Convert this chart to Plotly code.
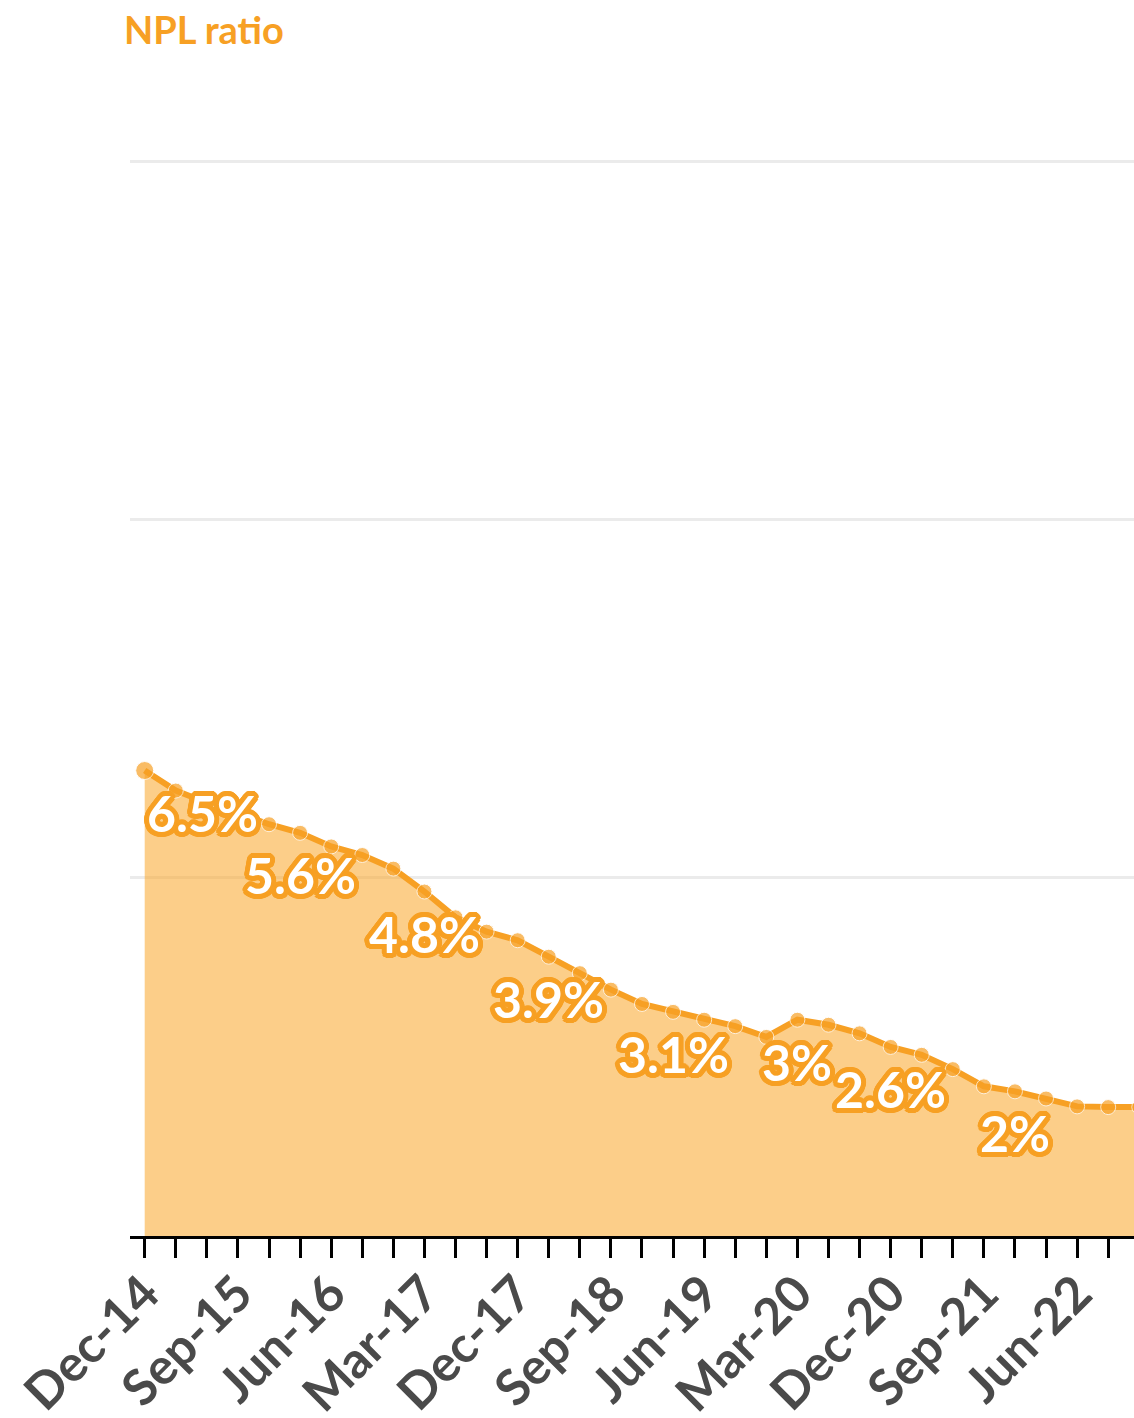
import plotly.graph_objects as go
import math

quarters = ["Dec-14", "Mar-15", "Jun-15", "Sep-15", "Dec-15", "Mar-16", "Jun-16", "Sep-16",
            "Dec-16", "Mar-17", "Jun-17", "Sep-17", "Dec-17", "Mar-18", "Jun-18", "Sep-18",
            "Dec-18", "Mar-19", "Jun-19", "Sep-19", "Dec-19", "Mar-20", "Jun-20", "Sep-20",
            "Dec-20", "Mar-21", "Jun-21", "Sep-21", "Dec-21", "Mar-22", "Jun-22", "Sep-22",
            "Dec-22"]
npl_ratio = [6.5, 6.22, 6.05, 5.9, 5.75, 5.63, 5.44, 5.32,
             5.13, 4.81, 4.45, 4.25, 4.13, 3.9, 3.67, 3.44,
             3.24, 3.13, 3.02, 2.93, 2.78, 3.02, 2.95, 2.83,
             2.64, 2.53, 2.33, 2.09, 2.02, 1.92, 1.81, 1.80,
             1.80]
tick_labels = ["Dec-14", "Sep-15", "Jun-16", "Mar-17", "Dec-17", "Sep-18",
               "Jun-19", "Mar-20", "Dec-20", "Sep-21", "Jun-22"]
labelled_quarters = ["Dec-14", "Mar-16", "Mar-17", "Mar-18", "Mar-19", "Mar-20", "Dec-20", "Dec-21"]
y_grid = [0, 5, 10, 15]

ORANGE = "#f7a024"
x_idx = list(range(len(quarters)))

fig = go.Figure()
fig.add_trace(go.Scatter(
    x=x_idx, y=npl_ratio, mode="lines+markers",
    line=dict(color=ORANGE, width=6),
    marker=dict(color=ORANGE, size=[18] + [15] * (len(quarters) - 1)),
    fill="tozeroy", fillcolor="rgba(250,165,40,0.55)",
    hoverinfo="skip", showlegend=False,
))

# outline via shadows
offs = []
for r in (2.5, 5):
    for k in range(24):
        a = 2 * math.pi * k / 24
        offs.append(f"{r*math.cos(a):.1f}px {r*math.sin(a):.1f}px 0 {ORANGE}")
shadow = ", ".join(offs)

def fmt(v):
    s = f"{v:.1f}"
    if s.endswith(".0"):
        s = s[:-2]
    return s + "%"

for q in labelled_quarters:
    i = quarters.index(q)
    first = (i == 0)
    fig.add_annotation(
        x=i, y=npl_ratio[i], xref="x", yref="y",
        text=fmt(npl_ratio[i]), showarrow=False,
        xanchor="left" if first else "center", yanchor="middle",
        yshift=-42, xshift=0,
        font=dict(family="Lato", size=50, color="white", weight="bold", shadow=shadow),
    )

tickvals = [quarters.index(t) for t in tick_labels]

fig.update_layout(
    width=1134, height=1418,
    margin=dict(l=130, r=0, t=126, b=182),
    paper_bgcolor="white", plot_bgcolor="white",
    title=dict(text="<b>NPL ratio</b>", xref="container", yref="container",
               x=124 / 1134, y=1 - 31 / 1418, xanchor="left", yanchor="middle",
               font=dict(family="Lato", size=38, color=ORANGE)),
    xaxis=dict(
        range=[-0.473, 31.83], tickvals=tickvals, ticktext=tick_labels,
        tickangle=-45, ticks="outside", ticklen=19, tickwidth=3, tickcolor="black",
        showline=True, linecolor="black", linewidth=3, showgrid=False, zeroline=False,
        automargin=False, ticklabelstandoff=-14,
        tickfont=dict(family="Lato", size=50, color="#4a4a4a", weight="bold"),
        minor=dict(dtick=1, tick0=0, ticks="outside", ticklen=19, tickwidth=3,
                   tickcolor="black", showgrid=False),
    ),
    yaxis=dict(
        range=[0, 15.5], tickvals=y_grid, showticklabels=False, ticks="",
        showgrid=True, gridcolor="#ebebeb", gridwidth=3, zeroline=False, showline=False,
        automargin=False,
    ),
)

fig.write_html("out.html", config={"displayModeBar": False},
               post_script="document.body.style.margin='0';document.body.style.overflow='hidden';")
